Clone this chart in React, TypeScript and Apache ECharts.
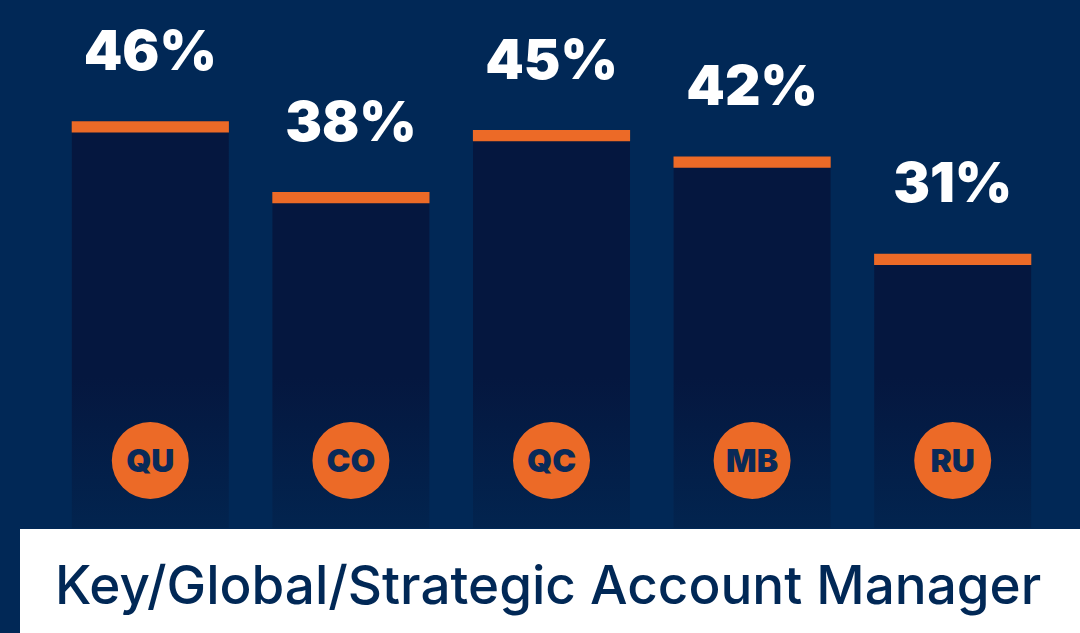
import React, { useEffect, useRef } from "react";
import * as echarts from "echarts";

const categories = ["QU", "CO", "QC", "MB", "RU"];
const values = [46, 38, 45, 42, 31];
const valueLabels = ["46%", "38%", "45%", "42%", "31%"];
const title = "Key/Global/Strategic Account Manager";

const BG = "#012856";
const BAR = "#05173f";
const ORANGE = "#ec6a27";

export default function App() {
  const ref = useRef<HTMLDivElement>(null);
  useEffect(() => {
    document.body.style.margin = "0";
    const chart = echarts.init(ref.current!, null, { renderer: "svg" });
    chart.setOption({
      animation: false,
      backgroundColor: BG,
      grid: { left: 50, right: 27, top: 86, bottom: 105 },
      xAxis: {
        type: "category",
        data: categories,
        z: 10,
        axisLine: { show: false },
        axisTick: { show: false },
        axisLabel: {
          inside: true,
          margin: 29,
          backgroundColor: ORANGE,
          width: 77,
          height: 77,
          lineHeight: 77,
          borderRadius: 38.5,
          align: "center",
          fontFamily: "Inter",
          fontWeight: 900,
          fontSize: 32,
          color: "#0a2a58",
        },
      },
      yAxis: { type: "value", min: 0, max: 50, show: false },
      series: [
        {
          type: "bar",
          data: values,
          barWidth: 157,
          itemStyle: {
            color: {
              type: "linear",
              x: 0,
              y: 378,
              x2: 0,
              y2: 528,
              global: true,
              colorStops: [
                { offset: 0, color: BAR },
                { offset: 1, color: "#02244f" },
              ],
            },
          },
          label: {
            show: true,
            position: "top",
            distance: 44,
            formatter: (p: any) => valueLabels[p.dataIndex],
            color: "#ffffff",
            fontFamily: "Inter",
            fontWeight: 900,
            fontSize: 55,
          },
        },
        {
          type: "pictorialBar",
          data: values,
          symbol: "rect",
          symbolSize: [157, 11],
          symbolPosition: "end",
          itemStyle: { color: ORANGE },
          z: 3,
        },
      ],
      graphic: [
        {
          type: "rect",
          shape: { x: 20, y: 529, width: 1060, height: 104 },
          style: { fill: "#ffffff" },
          z: 20,
        },
        {
          type: "text",
          x: 55,
          y: 585,
          z: 21,
          style: {
            text: title,
            fill: "#012856",
            font: "500 53px Inter",
            verticalAlign: "middle",
          },
        },
      ],
    });
    return () => chart.dispose();
  }, []);
  return (
    <div
      ref={ref}
      style={{ position: "absolute", left: 0, top: 0, width: 1080, height: 633 }}
    />
  );
}
